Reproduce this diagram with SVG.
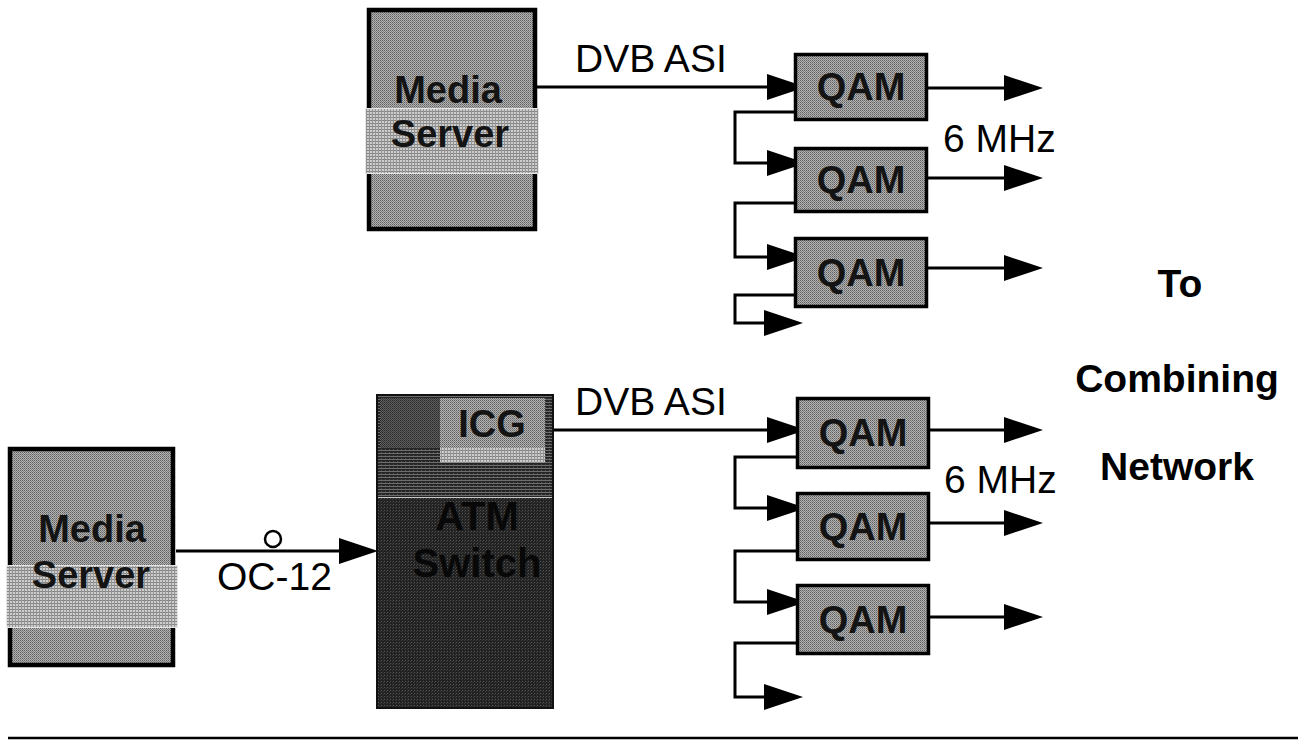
<svg xmlns="http://www.w3.org/2000/svg" width="1298" height="741" viewBox="0 0 1298 741">
  <style>
    .lbl { font-family: "Liberation Sans", Arial, sans-serif; font-size: 39px; fill: #000; }
    .bold { font-family: "Liberation Sans", Arial, sans-serif; font-weight: bold; font-size: 39px; fill: #000; }
    .box-text { font-family: "Liberation Sans", Arial, sans-serif; font-weight: bold; font-size: 38px; fill: #141414; text-anchor: middle; }
    .dark-text { font-family: "Liberation Sans", Arial, sans-serif; font-weight: bold; font-size: 40px; fill: #080808; text-anchor: middle; }
    .wire { fill: none; stroke: #000; stroke-width: 3; stroke-linecap: butt; stroke-linejoin: miter; }
    .arrow { marker-end: url(#head); }
    .panel { fill: url(#dither); stroke: #000; stroke-width: 4.5; }
    .qam { fill: url(#dither); stroke: #000; stroke-width: 3.5; }
    .band { fill: url(#grid); stroke: #e6e6e6; stroke-width: 1; }
  </style>
  <defs>
    <!-- medium grey halftone -->
    <pattern id="dither" width="2" height="2" patternUnits="userSpaceOnUse">
      <rect width="2" height="2" fill="#b2b2b2"/>
      <rect width="1" height="1" fill="#606060"/>
      <rect x="1" y="1" width="1" height="1" fill="#808080"/>
    </pattern>
    <!-- lighter cross-hatched band -->
    <pattern id="grid" width="3" height="3" patternUnits="userSpaceOnUse">
      <rect width="3" height="3" fill="#cdcdcd"/>
      <rect width="3" height="1" fill="#858585"/>
      <rect width="1" height="3" fill="#949494"/>
    </pattern>
    <!-- dark switch body -->
    <pattern id="darkdot" width="3" height="3" patternUnits="userSpaceOnUse">
      <rect width="3" height="3" fill="#222"/>
      <rect width="1" height="1" fill="#545454"/>
      <rect x="2" y="1" width="1" height="1" fill="#3c3c3c"/>
    </pattern>
    <!-- dark horizontally ruled area -->
    <pattern id="ruled" width="4" height="3" patternUnits="userSpaceOnUse">
      <rect width="4" height="3" fill="#262626"/>
      <rect width="4" height="1" fill="#6e6e6e"/>
      <rect x="1" y="2" width="1" height="1" fill="#505050"/>
    </pattern>
    <!-- darker halftone for the upper-left of the switch -->
    <pattern id="midgrey" width="2" height="2" patternUnits="userSpaceOnUse">
      <rect width="2" height="2" fill="#5e5e5e"/>
      <rect width="1" height="1" fill="#2a2a2a"/>
      <rect x="1" y="1" width="1" height="1" fill="#3a3a3a"/>
    </pattern>
    <marker id="head" markerUnits="userSpaceOnUse" markerWidth="39" markerHeight="26" refX="31" refY="13" orient="auto">
      <path d="M0,0 L39,13 L0,26 Z" fill="#000"/>
    </marker>
  </defs>

  <rect width="1298" height="741" fill="#fff"/>

  <!-- connectors (drawn first so the boxes cover the arrow tips) -->
  <g id="connectors">
    <!-- upper chain -->
    <path class="wire arrow" d="M536,87 H798"/>
    <path class="wire arrow" d="M927,88 H1035"/>
    <path class="wire arrow" d="M927,178 H1035"/>
    <path class="wire arrow" d="M927,268 H1035"/>
    <path class="wire arrow" d="M796,112 H735 V163 H798"/>
    <path class="wire arrow" d="M796,203 H735 V257 H798"/>
    <path class="wire arrow" d="M796,295 H735 V323 H795"/>

    <!-- lower chain -->
    <path class="wire arrow" d="M553,430 H798"/>
    <path class="wire arrow" d="M928,430 H1035"/>
    <path class="wire arrow" d="M928,523 H1035"/>
    <path class="wire arrow" d="M928,617 H1035"/>
    <path class="wire arrow" d="M797,457 H735 V508 H798"/>
    <path class="wire arrow" d="M797,551 H735 V602 H798"/>
    <path class="wire arrow" d="M797,643 H735 V697 H795"/>

    <!-- OC-12 link into the switch -->
    <path class="wire arrow" d="M176,551 H370"/>
    <circle cx="273" cy="539" r="8" fill="#fff" stroke="#000" stroke-width="2.5"/>

    <text class="lbl" x="575" y="72">DVB ASI</text>
    <text class="lbl" x="943" y="152">6 MHz</text>
    <text class="lbl" x="575" y="415">DVB ASI</text>
    <text class="lbl" x="944" y="493">6 MHz</text>
    <text class="lbl" x="217" y="590">OC-12</text>
  </g>

  <!-- upper media server -->
  <g id="media-server-top">
    <rect class="panel" x="369" y="10" width="166" height="219"/>
    <rect class="band" x="365.5" y="108.5" width="173" height="65"/>
    <text class="box-text" x="448" y="103">Media</text>
    <text class="box-text" x="450" y="147">Server</text>
  </g>

  <!-- upper QAM modulators -->
  <g id="qam-1">
    <rect class="qam" x="795.5" y="54.5" width="131" height="65"/>
    <text class="box-text" x="861" y="100">QAM</text>
  </g>
  <g id="qam-2">
    <rect class="qam" x="795.5" y="148.5" width="131" height="63"/>
    <text class="box-text" x="861" y="193">QAM</text>
  </g>
  <g id="qam-3">
    <rect class="qam" x="795.5" y="238.5" width="131" height="68"/>
    <text class="box-text" x="861" y="286">QAM</text>
  </g>

  <!-- lower media server -->
  <g id="media-server-bottom">
    <rect class="panel" x="10" y="449" width="163" height="216"/>
    <rect class="band" x="6.5" y="565.5" width="171" height="62"/>
    <text class="box-text" x="92" y="542">Media</text>
    <text class="box-text" x="91" y="588">Server</text>
  </g>

  <!-- ATM switch with ICG card -->
  <g id="atm-switch">
    <rect x="377" y="395" width="176" height="313" fill="url(#darkdot)"/>
    <rect x="377" y="395" width="176" height="102" fill="url(#ruled)"/>
    <rect x="380" y="398" width="60" height="50" fill="url(#midgrey)"/>
    <line x1="377" y1="497.5" x2="553" y2="497.5" stroke="#c8c8c8" stroke-width="1"/>
    <rect x="377" y="395" width="176" height="313" fill="none" stroke="#111" stroke-width="2"/>
    <text class="dark-text" x="477" y="530">ATM</text>
    <text class="dark-text" x="477" y="577">Switch</text>
  </g>
  <g id="icg">
    <rect x="440" y="398" width="105" height="65" fill="url(#dither)"/>
    <rect x="440" y="448" width="105" height="15" fill="url(#grid)"/>
    <text class="box-text" x="492" y="437">ICG</text>
  </g>

  <!-- lower QAM modulators -->
  <g id="qam-4">
    <rect class="qam" x="797.5" y="398.5" width="131" height="69"/>
    <text class="box-text" x="863" y="446">QAM</text>
  </g>
  <g id="qam-5">
    <rect class="qam" x="797.5" y="493.5" width="131" height="66"/>
    <text class="box-text" x="863" y="540">QAM</text>
  </g>
  <g id="qam-6">
    <rect class="qam" x="797.5" y="585.5" width="131" height="68"/>
    <text class="box-text" x="863" y="633">QAM</text>
  </g>

  <!-- destination caption -->
  <g id="combining-network">
    <text class="bold" x="1180" y="297" text-anchor="middle">To</text>
    <text class="bold" x="1177" y="392" text-anchor="middle">Combining</text>
    <text class="bold" x="1177" y="480" text-anchor="middle">Network</text>
  </g>

  <!-- bottom rule -->
  <line x1="8" y1="738" x2="1298" y2="738" stroke="#000" stroke-width="2.5"/>
</svg>
